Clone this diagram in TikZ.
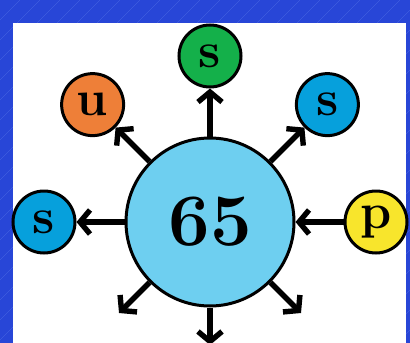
\documentclass[tikz,border=0pt]{standalone}
\usetikzlibrary{positioning,arrows.meta}

\definecolor{bgblue}{RGB}{40,70,215}
\definecolor{stripe}{RGB}{80,110,228}
\definecolor{coreblue}{RGB}{110,207,240}
\definecolor{sblue}{RGB}{6,160,220}
\definecolor{ugreen}{RGB}{20,176,74}
\definecolor{uorange}{RGB}{238,127,56}
\definecolor{pyellow}{RGB}{248,229,44}

\begin{document}
\begin{tikzpicture}[
  x=1pt, y=-1pt,
  >={Straight Barb[length=10pt,width=24pt]},
  node distance=48pt,
  atom/.style={circle, draw, line width=3pt, minimum size=62pt, inner sep=0pt,
    font=\fontsize{50}{50}\selectfont\bfseries},
  core/.style={circle, draw, line width=3pt, fill=coreblue, minimum size=168pt,
    font=\fontsize{74}{74}\selectfont\bfseries},
  link/.style={->, line width=5.4pt}
]

% background with faint stripes
\useasboundingbox (0,0) rectangle (410,343);
\fill[bgblue] (0,0) rectangle (410,343);
\begin{scope}
  \clip (0,0) rectangle (410,343);
  \foreach \i in {-20,0,...,760}
    \draw[stripe, line width=0.3pt] (\i-360,360) -- (\i,0);
\end{scope}
\fill[white] (13,23) rectangle (406,343);

% central node
\node[core] (core) at (210,222) {65};

% neighbours
\node[atom, fill=ugreen, above=of core]        (top)   {s};
\node[atom, fill=uorange, above left=of core]  (upl)   {u};
\node[atom, fill=sblue, above right=of core]   (upr)   {s};
\node[atom, fill=sblue, left=of core]          (lft)   {s};
\node[atom, fill=pyellow, right=of core]       (rgt)   {p};

% free ends (cut off below)
\coordinate (dwl) at (119,313);
\coordinate (dwr) at (301,313);
\coordinate (dwn) at (210,345);

% arrows
\draw[link] (core) -- (top);
\draw[link] (core) -- (upl);
\draw[link] (core) -- (upr);
\draw[link] (core) -- (lft);
\draw[link] (rgt) -- (core);
\draw[link] (core) -- (dwl);
\draw[link] (core) -- (dwr);
\draw[link] (core) -- (dwn);

\end{tikzpicture}
\end{document}
